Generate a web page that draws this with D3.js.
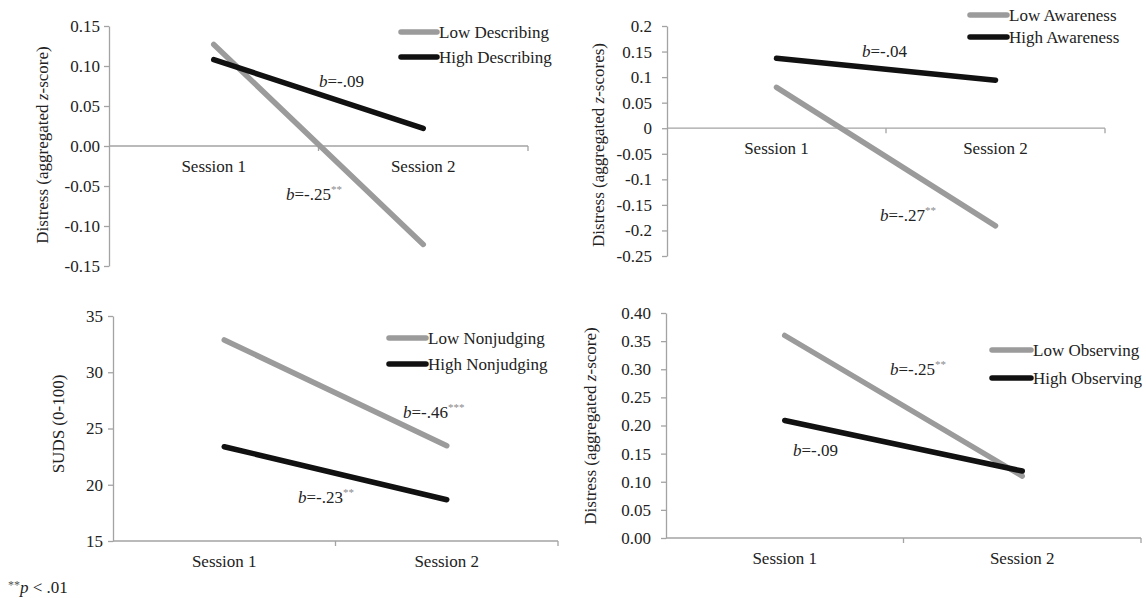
<!DOCTYPE html>
<html>
<head>
<meta charset="utf-8">
<script src="https://cdn.jsdelivr.net/npm/d3@7"></script>
<style>
  body { margin: 0; background: #fff; }
  svg { display: block; }
</style>
</head>
<body>
<svg id="chart" width="1146" height="598"></svg>
<script>
const sessions = ['Session 1', 'Session 2'];

// values
const describingLow = [0.127, -0.123];
const describingHigh = [0.108, 0.022];
const describingTicks = [0.15, 0.10, 0.05, 0, -0.05, -0.10, -0.15];
const describingTickLabels = ['0.15', '0.10', '0.05', '0.00', '-0.05', '-0.10', '-0.15'];

const awarenessLow = [0.080, -0.191];
const awarenessHigh = [0.137, 0.094];
const awarenessTicks = [0.2, 0.15, 0.1, 0.05, 0, -0.05, -0.1, -0.15, -0.2, -0.25];
const awarenessTickLabels = ['0.2', '0.15', '0.1', '0.05', '0', '-0.05', '-0.1', '-0.15', '-0.2', '-0.25'];

const nonjudgingLow = [32.87, 23.47];
const nonjudgingHigh = [23.38, 18.67];
const nonjudgingTicks = [35, 30, 25, 20, 15];
const nonjudgingTickLabels = ['35', '30', '25', '20', '15'];

const observingLow = [0.360, 0.110];
const observingHigh = [0.209, 0.119];
const observingTicks = [0.40, 0.35, 0.30, 0.25, 0.20, 0.15, 0.10, 0.05, 0];
const observingTickLabels = ['0.40', '0.35', '0.30', '0.25', '0.20', '0.15', '0.10', '0.05', '0.00'];

const FONT = '"Liberation Serif", "Times New Roman", "DejaVu Serif", serif';
const COLORS = { low: '#9b9b9b', high: '#111', axis: '#a3a3a3', sup: '#8a8a8a', ink: '#222' };

const panels = [
  {
    low: describingLow, high: describingHigh, ticks: describingTicks, tickLabels: describingTickLabels,
    legend: ['Low Describing', 'High Describing'],
    title: ['Distress (aggregated ', 'z', '-score)'],
    notes: [{ b: '=-.09', sup: '', x: 319, y: 87 }, { b: '=-.25', sup: '**', x: 286, y: 200 }],
    x0: 109, x1: 528, yTop: 26, yBot: 266, pad: 4, baseAtZero: true,
    leg: { x0: 401, x1: 437, y: [32, 57] }, titleAt: [48, 145],
  },
  {
    low: awarenessLow, high: awarenessHigh, ticks: awarenessTicks, tickLabels: awarenessTickLabels,
    legend: ['Low Awareness', 'High Awareness'],
    title: ['Distress (aggregated ', 'z', '-scores)'],
    notes: [{ b: '=-.04', sup: '', x: 862, y: 57 }, { b: '=-.27', sup: '**', x: 880, y: 221 }],
    x0: 667, x1: 1105, yTop: 26, yBot: 256, pad: 10, baseAtZero: true,
    leg: { x0: 970, x1: 1007, y: [15, 37] }, titleAt: [604, 145],
  },
  {
    low: nonjudgingLow, high: nonjudgingHigh, ticks: nonjudgingTicks, tickLabels: nonjudgingTickLabels,
    legend: ['Low Nonjudging', 'High Nonjudging'],
    title: ['SUDS (0-100)'],
    notes: [{ b: '=-.46', sup: '***', x: 403, y: 418 }, { b: '=-.23', sup: '**', x: 298, y: 503 }],
    x0: 113, x1: 558, yTop: 316, yBot: 541, pad: 5, baseAtZero: false,
    leg: { x0: 389, x1: 426, y: [338, 364] }, titleAt: [64, 424],
  },
  {
    low: observingLow, high: observingHigh, ticks: observingTicks, tickLabels: observingTickLabels,
    legend: ['Low Observing', 'High Observing'],
    title: ['Distress (aggregated ', 'z', '-score)'],
    notes: [{ b: '=-.25', sup: '**', x: 890, y: 375 }, { b: '=-.09', sup: '', x: 793, y: 456 }],
    x0: 666, x1: 1141, yTop: 313, yBot: 538, pad: 10, baseAtZero: false,
    leg: { x0: 992, x1: 1031, y: [350, 378] }, titleAt: [596, 426],
  },
];

const svg = d3.select('#chart').attr('font-family', FONT);

panels.forEach(p => {
  const g = svg.append('g');
  const y = d3.scaleLinear()
    .domain([d3.min(p.ticks), d3.max(p.ticks)])
    .range([p.yBot, p.yTop]);
  const xb = d3.scaleBand().domain(sessions).range([p.x0, p.x1]);
  const cx = d => xb(d) + xb.bandwidth() / 2;
  const baseY = p.baseAtZero ? y(0) : p.yBot;

  // y axis
  const yAxis = g.append('g')
    .attr('transform', `translate(${p.x0},0)`)
    .call(d3.axisLeft(y).tickValues(p.ticks)
      .tickFormat((d, i) => p.tickLabels[i])
      .tickSize(5).tickPadding(p.pad).tickSizeOuter(0))
    .attr('font-family', FONT).attr('font-size', 17);
  yAxis.select('.domain').attr('stroke', COLORS.axis).attr('stroke-width', 1.3);
  yAxis.selectAll('.tick line').attr('stroke', COLORS.axis).attr('stroke-width', 1.3);
  yAxis.selectAll('.tick text').attr('fill', COLORS.ink);

  // category axis, ticks sit between categories
  const bounds = sessions.map(s => xb(s)).concat([p.x1]);
  g.append('line').attr('x1', p.x0).attr('x2', p.x1).attr('y1', baseY).attr('y2', baseY)
    .attr('stroke', COLORS.axis).attr('stroke-width', 1.3);
  g.selectAll('.xtick').data(bounds.slice(1)).join('line')
    .attr('x1', d => d).attr('x2', d => d).attr('y1', baseY).attr('y2', baseY + 5)
    .attr('stroke', COLORS.axis).attr('stroke-width', 1.3);
  g.selectAll('.xlab').data(sessions).join('text')
    .attr('x', d => cx(d)).attr('y', baseY + 26)
    .attr('text-anchor', 'middle').attr('font-size', 17).attr('fill', COLORS.ink)
    .text(d => d);

  // lines
  const line = d3.line().x((d, i) => cx(sessions[i])).y(d => y(d));
  [[p.low, COLORS.low], [p.high, COLORS.high]].forEach(([vals, col]) => {
    g.append('path').datum(vals).attr('d', line)
      .attr('fill', 'none').attr('stroke', col)
      .attr('stroke-width', 5.5).attr('stroke-linecap', 'round');
  });

  // legend
  [COLORS.low, COLORS.high].forEach((col, i) => {
    g.append('line').attr('x1', p.leg.x0).attr('x2', p.leg.x1)
      .attr('y1', p.leg.y[i]).attr('y2', p.leg.y[i])
      .attr('stroke', col).attr('stroke-width', 5.5).attr('stroke-linecap', 'round');
    g.append('text').attr('x', p.leg.x1 + 2).attr('y', p.leg.y[i]).attr('dy', '0.35em')
      .attr('font-size', 17).attr('fill', COLORS.ink).text(p.legend[i]);
  });

  // slope notes
  p.notes.forEach(n => {
    const t = g.append('text').attr('x', n.x).attr('y', n.y)
      .attr('font-size', 17).attr('fill', COLORS.ink);
    t.append('tspan').attr('font-style', 'italic').text('b');
    t.append('tspan').text(n.b);
    if (n.sup) t.append('tspan').attr('dy', -7).attr('font-size', 11)
      .attr('fill', COLORS.sup).text(n.sup);
  });

  // y title
  const tt = g.append('text')
    .attr('transform', `translate(${p.titleAt[0]},${p.titleAt[1]}) rotate(-90)`)
    .attr('text-anchor', 'middle').attr('font-size', 17).attr('fill', COLORS.ink);
  p.title.forEach((s, i) => {
    tt.append('tspan').attr('font-style', i === 1 ? 'italic' : null).text(s);
  });
});

// footnote
const fn = svg.append('text').attr('x', 8).attr('y', 593)
  .attr('font-size', 17).attr('fill', COLORS.ink);
fn.append('tspan').attr('font-size', 12).attr('dy', -4).attr('fill', '#555').text('**');
fn.append('tspan').attr('dy', 4).attr('font-style', 'italic').text('p');
fn.append('tspan').text(' < .01');
</script>
</body>
</html>
